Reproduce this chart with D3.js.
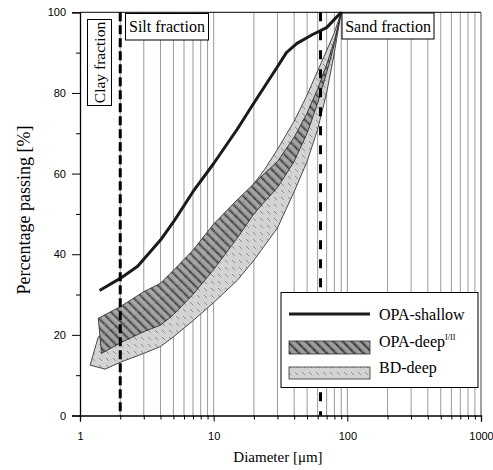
<!DOCTYPE html>
<html><head><meta charset="utf-8">
<script src="https://cdn.jsdelivr.net/npm/d3@7"></script>
<style>body{margin:0;background:#fff}svg{display:block}</style>
</head><body><svg id="c" width="493" height="470"></svg>
<script>
// ---- data (diameter in µm, percentage passing) ----
const opaShallow = [[1.4,31],[2,34],[2.7,37],[4,43.5],[5,48],[7,55.5],[10,62.5],[15,71],[20,77.5],[30,86.5],[35,90],[42,92.3],[55,94.5],[70,96.2],[90,100]];
const opaDeepUpper = [[1.37,24.1],[2,27],[3,30.7],[4,32.8],[5,36],[7,41],[10,47.5],[15,53.5],[20,57.5],[24,60],[30,63],[40,69],[50,75],[60,81],[70,87],[80,93],[90,100]];
const opaDeepLower = [[1.45,15.4],[2,18],[3,20.8],[4,22.4],[5,25],[7,30],[10,36.2],[15,44],[20,50],[24,53],[30,56.5],[40,63],[50,70],[60,77.5],[70,85],[80,92],[90,100]];
const bdDeepUpper = [[1.37,19.5],[2,22.5],[3,26],[5,31],[10,42],[15,50],[20,57.5],[24,61],[30,66],[40,73],[50,79.5],[60,85.5],[70,90.5],[80,95],[90,100]];
const bdDeepLower = [[1.19,12.5],[1.54,11.5],[2,13.2],[3,15.4],[4,17.1],[5,19.5],[7,23.5],[10,28],[15,33.5],[20,38.5],[30,46.5],[40,55.5],[50,63],[60,71],[70,80],[80,90],[90,100]];
const fractionBounds = [2, 63];
const xMajorTicks = [1,10,100,1000];
const xMinorTicks = [2,3,4,5,6,7,8,9,20,30,40,50,60,70,80,90,200,300,400,500,600,700,800,900];
const yMajorTicks = [0,20,40,60,80,100];
const yMinorTicks = [10,30,50,70,90];
const legendItems = ["OPA-shallow","OPA-deep","BD-deep"];

const svg = d3.select("#c");
const L=80, R=481, T=12.3, B=415.5;
const x = d3.scaleLog().domain([1,1000]).range([L,R]);
const y = d3.scaleLinear().domain([0,100]).range([B,T]);
const serif = "'Liberation Serif','Times New Roman',serif";
const sans = "'Liberation Sans',Arial,sans-serif";

// patterns
const defs = svg.append("defs");
const p1 = defs.append("pattern").attr("id","opa").attr("patternUnits","userSpaceOnUse")
  .attr("width",6.5).attr("height",6.5).attr("patternTransform","rotate(-45)");
p1.append("rect").attr("width",6.5).attr("height",6.5).attr("fill","#8a8a8a");
p1.append("rect").attr("x",3.2).attr("width",2.2).attr("height",6.5).attr("fill","#a3a3a3");
p1.append("line").attr("x1",0.8).attr("x2",0.8).attr("y1",0).attr("y2",6.5)
  .attr("stroke","#111").attr("stroke-width",1.4).attr("stroke-dasharray","1.6,0.6");
const p2 = defs.append("pattern").attr("id","bd").attr("patternUnits","userSpaceOnUse")
  .attr("width",7).attr("height",7);
p2.append("rect").attr("width",7).attr("height",7).attr("fill","#d3d3d3");
p2.append("line").attr("x1",1).attr("y1",1).attr("x2",4.5).attr("y2",4.5)
  .attr("stroke","#6e6e6e").attr("stroke-width",1).attr("stroke-dasharray","1,0.7");

// grid
svg.append("g").selectAll("line").data(xMinorTicks.concat([10,100])).join("line")
  .attr("x1",d=>x(d)).attr("x2",d=>x(d)).attr("y1",T).attr("y2",B)
  .attr("stroke","#9a9a9a").attr("stroke-width",1);

// bands
const line = d3.line().x(d=>x(d[0])).y(d=>y(d[1]));
function band(up, lo){ return line(up.concat(lo.slice().reverse())) + "Z"; }
svg.append("path").attr("d",band(bdDeepUpper,bdDeepLower)).attr("fill","url(#bd)")
  .attr("stroke","#222").attr("stroke-width",0.8);
svg.append("path").attr("d",band(opaDeepUpper,opaDeepLower)).attr("fill","url(#opa)")
  .attr("fill-opacity",0.9).attr("stroke","#222").attr("stroke-width",0.8);

// OPA-shallow
svg.append("path").attr("d",line(opaShallow)).attr("fill","none")
  .attr("stroke","#1a1a1a").attr("stroke-width",3).attr("stroke-linejoin","round");

// dashed boundaries
svg.append("g").selectAll("line").data(fractionBounds).join("line")
  .attr("x1",d=>x(d)).attr("x2",d=>x(d)).attr("y1",T).attr("y2",B)
  .attr("stroke","#000").attr("stroke-width",3)
  .attr("stroke-dasharray",(d,i)=>i===0?"9,4":"9,10");

// frame top/right
svg.append("line").attr("x1",L).attr("x2",R).attr("y1",T).attr("y2",T).attr("stroke","#000");
svg.append("line").attr("x1",R).attr("x2",R).attr("y1",T).attr("y2",B).attr("stroke","#444");

// axes
const fmt = d=>String(d);
svg.append("g").attr("transform",`translate(0,${B})`)
  .call(d3.axisBottom(x).tickValues(xMajorTicks).tickFormat(fmt).tickSize(6).tickPadding(11))
  .call(g=>{g.select(".domain").attr("stroke","#000").attr("stroke-width",1.3);
    g.selectAll("text").attr("font-family",sans).attr("font-size",11).attr("fill","#000");});
svg.append("g").attr("transform",`translate(0,${B})`)
  .call(d3.axisBottom(x).tickValues(xMinorTicks).tickFormat("").tickSize(4))
  .call(g=>g.select(".domain").remove());
svg.append("g").attr("transform",`translate(${L},0)`)
  .call(d3.axisLeft(y).tickValues(yMajorTicks).tickFormat(fmt).tickSize(8).tickPadding(6))
  .call(g=>{g.select(".domain").attr("stroke","#000").attr("stroke-width",1.3);
    g.selectAll("text").attr("font-family",sans).attr("font-size",11).attr("fill","#000");});
svg.append("g").attr("transform",`translate(${L},0)`)
  .call(d3.axisLeft(y).tickValues(yMinorTicks).tickFormat("").tickSize(4))
  .call(g=>g.select(".domain").remove());

// axis titles
svg.append("text").attr("transform","translate(30,210) rotate(-90)").attr("text-anchor","middle")
  .style("font-family",serif).attr("font-size",18).text("Percentage passing [%]");
svg.append("text").attr("x",278).attr("y",462).attr("text-anchor","middle")
  .style("font-family",serif).attr("font-size",15).text("Diameter [μm]");

// fraction labels
function box(x0,y0,w,h){ svg.append("rect").attr("x",x0).attr("y",y0).attr("width",w).attr("height",h)
  .attr("fill","#fff").attr("stroke","#000").attr("stroke-width",1); }
box(87.5,19.5,24,86);
svg.append("text").attr("transform","translate(105,62.5) rotate(-90)").attr("text-anchor","middle")
  .style("font-family",serif).attr("font-size",15.5).text("Clay fraction");
box(125.5,13.5,83,26.5);
svg.append("text").attr("x",167).attr("y",32).attr("text-anchor","middle")
  .style("font-family",serif).attr("font-size",16).text("Silt fraction");
box(342,13,92,26);
svg.append("text").attr("x",388).attr("y",31.5).attr("text-anchor","middle")
  .style("font-family",serif).attr("font-size",16).text("Sand fraction");

// legend
const lg = svg.append("g");
lg.append("rect").attr("x",281).attr("y",292.5).attr("width",197).attr("height",95)
  .attr("fill","#fff").attr("stroke","#000").attr("stroke-width",1);
lg.append("line").attr("x1",289).attr("x2",370).attr("y1",314).attr("y2",314)
  .attr("stroke","#1a1a1a").attr("stroke-width",3);
lg.append("rect").attr("x",289).attr("y",341).attr("width",81).attr("height",13)
  .attr("fill","url(#opa)").attr("stroke","#333").attr("stroke-width",0.8);
lg.append("rect").attr("x",289).attr("y",367).attr("width",81).attr("height",12)
  .attr("fill","url(#bd)").attr("stroke","#333").attr("stroke-width",0.8);
lg.append("text").attr("x",379).attr("y",320).style("font-family",serif).attr("font-size",16).text(legendItems[0]);
const t2 = lg.append("text").attr("x",379).attr("y",347).style("font-family",serif).attr("font-size",16);
t2.append("tspan").text(legendItems[1]);
t2.append("tspan").attr("font-size",8).attr("dy",-7).text("I/II");
lg.append("text").attr("x",379).attr("y",373).style("font-family",serif).attr("font-size",16).text(legendItems[2]);
</script></body></html>
